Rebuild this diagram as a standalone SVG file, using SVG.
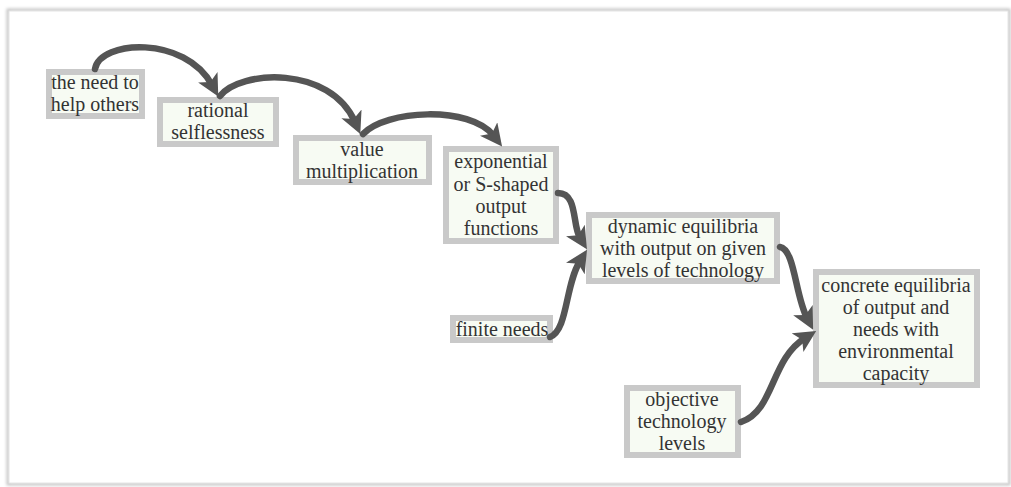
<svg xmlns="http://www.w3.org/2000/svg" width="1011" height="487" viewBox="0 0 1011 487">
  <style>
    .box { fill: #f7fbf3; stroke: #c9c9c9; stroke-width: 6; }
    .lbl { font-family: 'Liberation Serif', 'Times New Roman', serif; font-size: 20px; fill: #333333; text-anchor: middle; }
    .link { fill: none; stroke: #555555; stroke-width: 6.5; stroke-linecap: round; marker-end: url(#head); }
  </style>
  <defs>
    <marker id="head" viewBox="0 0 20 20" refX="8" refY="10" markerWidth="22" markerHeight="22" markerUnits="userSpaceOnUse" orient="auto">
      <path d="M0,0 L20,10 L0,20 L5,10 z" fill="#555555"/>
    </marker>
    <filter id="soft" x="-5%" y="-5%" width="110%" height="110%">
      <feGaussianBlur stdDeviation="1.5"/>
    </filter>
  </defs>

  <!-- page frame -->
  <rect width="1011" height="487" fill="#ffffff"/>
  <rect x="8" y="10" width="1001" height="474" fill="none" stroke="#c4c4c4" stroke-width="3" filter="url(#soft)"/>
  <rect x="9" y="11" width="999" height="472" fill="#ffffff" stroke="#e4e4e4" stroke-width="1"/>

  <g id="n-help-others">
    <rect class="box" x="49" y="72" width="93" height="44"/>
    <text class="lbl" x="95" y="89">the need to</text>
    <text class="lbl" x="95" y="111">help others</text>
  </g>
  <g id="n-rational-selflessness">
    <rect class="box" x="160" y="100" width="116" height="44"/>
    <text class="lbl" x="218" y="117">rational</text>
    <text class="lbl" x="218" y="139">selflessness</text>
  </g>
  <g id="n-value-multiplication">
    <rect class="box" x="296" y="138" width="133" height="44"/>
    <text class="lbl" x="362" y="156">value</text>
    <text class="lbl" x="362" y="178">multiplication</text>
  </g>
  <g id="n-output-functions">
    <rect class="box" x="446" y="149" width="110" height="92"/>
    <text class="lbl" x="501" y="168">exponential</text>
    <text class="lbl" x="501" y="191">or S-shaped</text>
    <text class="lbl" x="501" y="213">output</text>
    <text class="lbl" x="501" y="235">functions</text>
  </g>
  <g id="n-dynamic-equilibria">
    <rect class="box" x="589" y="215" width="188" height="66"/>
    <text class="lbl" x="683" y="233">dynamic equilibria</text>
    <text class="lbl" x="683" y="255">with output on given</text>
    <text class="lbl" x="683" y="277">levels of technology</text>
  </g>
  <g id="n-concrete-equilibria">
    <rect class="box" x="816" y="272" width="161" height="113"/>
    <text class="lbl" x="896" y="292">concrete equilibria</text>
    <text class="lbl" x="896" y="314">of output and</text>
    <text class="lbl" x="896" y="336">needs with</text>
    <text class="lbl" x="896" y="358">environmental</text>
    <text class="lbl" x="896" y="380">capacity</text>
  </g>
  <g id="n-finite-needs">
    <rect class="box" x="453" y="318" width="97" height="22"/>
    <text class="lbl" x="502" y="336">finite needs</text>
  </g>
  <g id="n-technology-levels">
    <rect class="box" x="627" y="388" width="111" height="67"/>
    <text class="lbl" x="682" y="406">objective</text>
    <text class="lbl" x="682" y="428">technology</text>
    <text class="lbl" x="682" y="450">levels</text>
  </g>

  <g id="connectors">
    <path class="link" d="M95,69 C100,40 185,35 212,85"/>
    <path class="link" d="M220,96 C240,70 330,65 355,122"/>
    <path class="link" d="M363,134 C385,110 470,105 494,136"/>
    <path class="link" d="M558,193 C578,193 572,225 580,238"/>
    <path class="link" d="M550,337 C568,330 565,285 580,261"/>
    <path class="link" d="M780,247 C795,250 795,295 807,318"/>
    <path class="link" d="M741,422 C775,410 770,360 805,338"/>
  </g>
</svg>
